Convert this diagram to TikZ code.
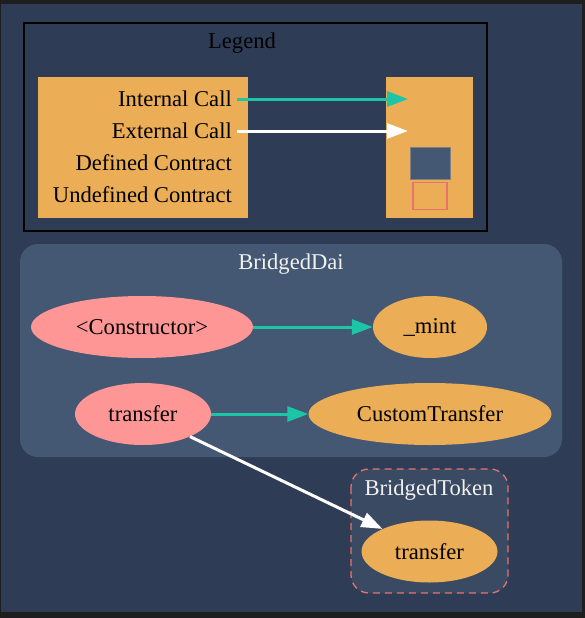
\documentclass[tikz,border=0pt]{standalone}
\usepackage{fontspec}
\setmainfont{Liberation Serif}
\usetikzlibrary{shapes.geometric,arrows.meta}
\definecolor{frame}{HTML}{1E1E1E}
\definecolor{bgblue}{HTML}{2E3D55}
\definecolor{clusterblue}{HTML}{445773}
\definecolor{tokenblue}{HTML}{3A4A63}
\definecolor{fnorange}{HTML}{EBAD55}
\definecolor{fnpink}{HTML}{FF9696}
\definecolor{callteal}{HTML}{1BC5A5}
\definecolor{dashred}{HTML}{E8726D}
\tikzset{
    fn/.style={shape=ellipse,inner sep=0pt,minimum height=62pt,text=black},
    public fn/.style={fn,fill=fnpink},
    private fn/.style={fn,fill=fnorange},
    internal call/.style={->,draw=callteal,line width=3pt},
    external call/.style={->,draw=white,line width=3pt},
    cluster title/.style={text=white!94!black},
    leg text/.style={anchor=east,inner sep=0pt,text=black}
}
\begin{document}
\begin{tikzpicture}[x=1pt,y=-1pt,>={Triangle[length=21pt,width=15pt]},font=\fontsize{22.6}{26}\selectfont]
    \fill[frame] (0,0) rectangle (585,618);
    \fill[bgblue] (1,4) rectangle (582,612);

    % legend
    \draw[black,line width=1.3pt] (24,23) rectangle (487,231);
    \node[text=black] (legtitle) at (242,43) {Legend};
    \fill[fnorange] (38,77) rectangle (248,218);
    \fill[fnorange] (386,77) rectangle (473,218);
    \node[leg text] (lint) at (232,99) {Internal Call};
    \node[leg text] (lext) at (232,131) {External Call};
    \node[leg text] (ldef) at (232,163) {Defined Contract};
    \node[leg text] (lundef) at (232,195) {Undefined Contract};
    \coordinate (tint) at (408,99);
    \coordinate (text) at (408,131);
    \draw[internal call] ([xshift=5pt]lint.east) -- (tint);
    \draw[external call] ([xshift=5pt]lext.east) -- (text);
    \node[draw=gray,line width=1pt,fill=clusterblue,minimum width=40pt,minimum height=32pt,inner sep=0pt] (sqdef) at (430,163) {};
    \node[draw=dashred,line width=1.5pt,fill=fnorange,minimum width=34pt,minimum height=27pt,inner sep=0pt] (squndef) at (430,196) {};

    % BridgedDai
    \fill[clusterblue,rounded corners=18pt] (20,244) rectangle (562,457);
    \node[cluster title] (daititle) at (291,264) {BridgedDai};
    \node[public fn,minimum width=222pt] (ctor) at (142,327) {<Constructor>};
    \node[private fn,minimum width=114pt] (mint) at (430,327) {\_mint};
    \node[public fn,minimum width=136pt] (transfer) at (143,414) {transfer};
    \node[private fn,minimum width=243pt] (custom) at (430,414) {CustomTransfer};

    % BridgedToken
    \draw[dashred,dash pattern=on 7pt off 5pt,line width=1.3pt,fill=tokenblue,rounded corners=18pt] (351,469) rectangle (508,593);
    \node[cluster title] (tokentitle) at (429,490) {BridgedToken};
    \node[private fn,minimum width=136pt] (tokentransfer) at (429.5,551.5) {transfer};

    \draw[internal call] (ctor) -- (mint);
    \draw[internal call] (transfer) -- (custom);
    \draw[external call] (transfer) -- (tokentransfer);

\end{tikzpicture}
\end{document}
